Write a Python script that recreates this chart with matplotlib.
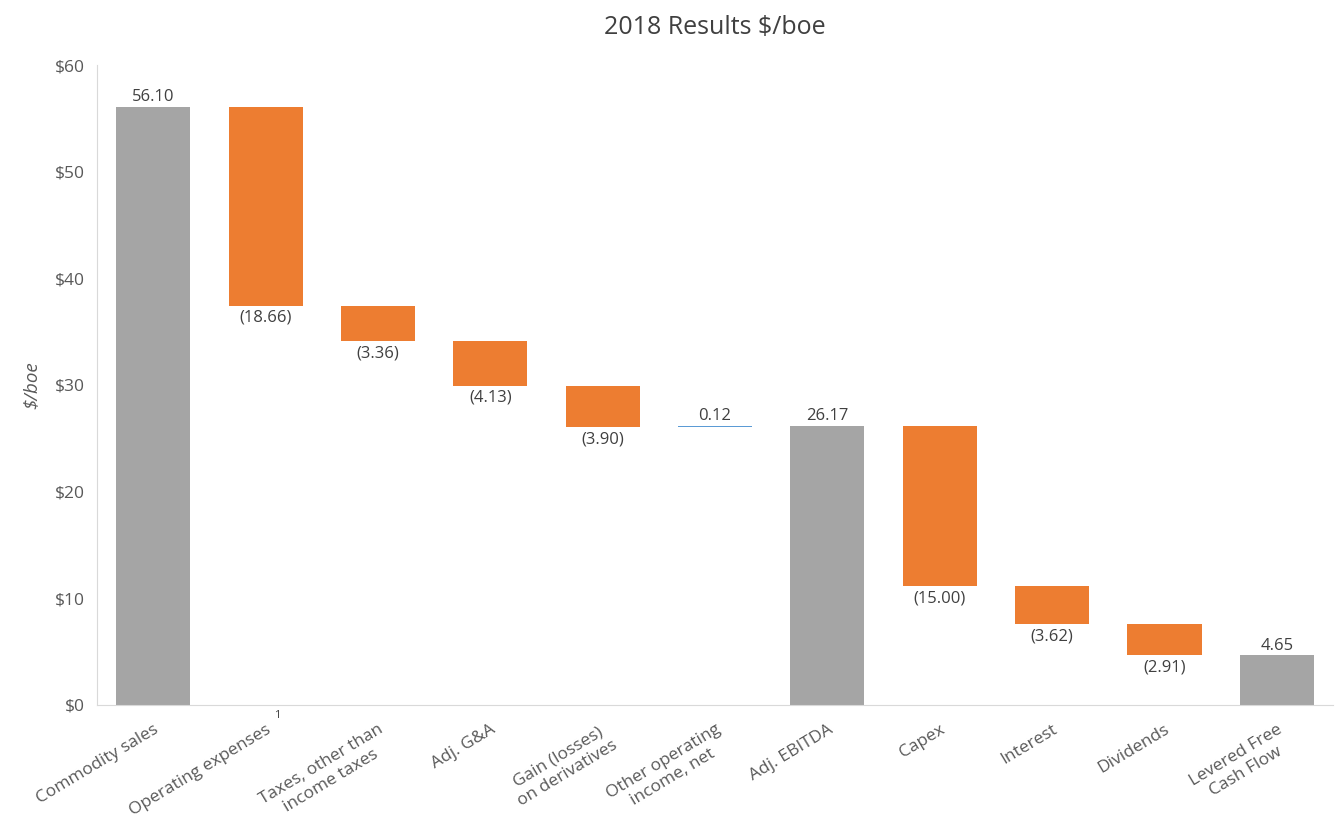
import matplotlib
matplotlib.use("Agg")
import matplotlib.pyplot as plt
import numpy as np

plt.rcParams['font.family'] = ['Open Sans', 'DejaVu Sans']

categories = ["Commodity sales", "Operating expenses", "Taxes, other than\nincome taxes",
              "Adj. G&A", "Gain (losses)\non derivatives", "Other operating\nincome, net",
              "Adj. EBITDA", "Capex", "Interest", "Dividends", "Levered Free\nCash Flow"]
values = [56.10, -18.66, -3.36, -4.13, -3.90, 0.12, 26.17, -15.00, -3.62, -2.91, 4.65]
is_total = [True, False, False, False, False, False, True, False, False, False, True]

GRAY = "#A5A5A5"
ORANGE = "#ED7D31"
BLUE = "#5B9BD5"
TXT = "#404040"
TICK = "#595959"

fig = plt.figure(figsize=(13.37, 8.23), dpi=100)
ax = fig.add_axes([0.0726, 0.1434, 0.9244, 0.7776])

x = np.arange(len(categories))
running = 0.0
for i, (v, tot) in enumerate(zip(values, is_total)):
    if tot:
        bottom, h, col = 0, v, GRAY
        running = v
    elif v < 0:
        bottom, h, col = running + v, -v, ORANGE
        running = running + v
    else:
        bottom, h, col = running, v, BLUE
        running = running + v
    ax.bar(x[i], h, bottom=bottom, width=0.66, color=col)
    if v < 0:
        ax.annotate("(%.2f)" % -v, (x[i], bottom), xytext=(0, -3), textcoords="offset points",
                    ha="center", va="top", fontsize=12, color=TXT)
    else:
        ax.annotate("%.2f" % v, (x[i], bottom + h), xytext=(0, 1), textcoords="offset points",
                    ha="center", va="bottom", fontsize=12, color=TXT)

ax.set_xlim(-0.5, len(categories) - 0.5)
ax.set_ylim(0, 60)
ax.set_yticks(np.arange(0, 61, 10))
ax.set_yticklabels(["$%d" % t for t in range(0, 61, 10)], fontsize=12.5, color=TICK)
ax.set_xticks(x)
ax.set_xticklabels(categories, rotation=31, ha="right", rotation_mode="anchor",
                   fontsize=12.5, color=TICK, linespacing=1.2, multialignment="center")
ax.tick_params(axis="both", length=0)
ax.tick_params(axis="y", pad=9)
ax.tick_params(axis="x", pad=12)
for s in ["top", "right"]:
    ax.spines[s].set_visible(False)
for s in ["left", "bottom"]:
    ax.spines[s].set_color("#D9D9D9")

ax.set_ylabel("$/boe", fontsize=13.5, color=TICK, style="italic", labelpad=10)
ax.set_title("2018 Results $/boe", fontsize=18, color=TXT, pad=22)
fig.text(0.207, 0.127, "1", fontsize=8, color=TXT, ha="center")

fig.savefig("out.png", dpi=100)
